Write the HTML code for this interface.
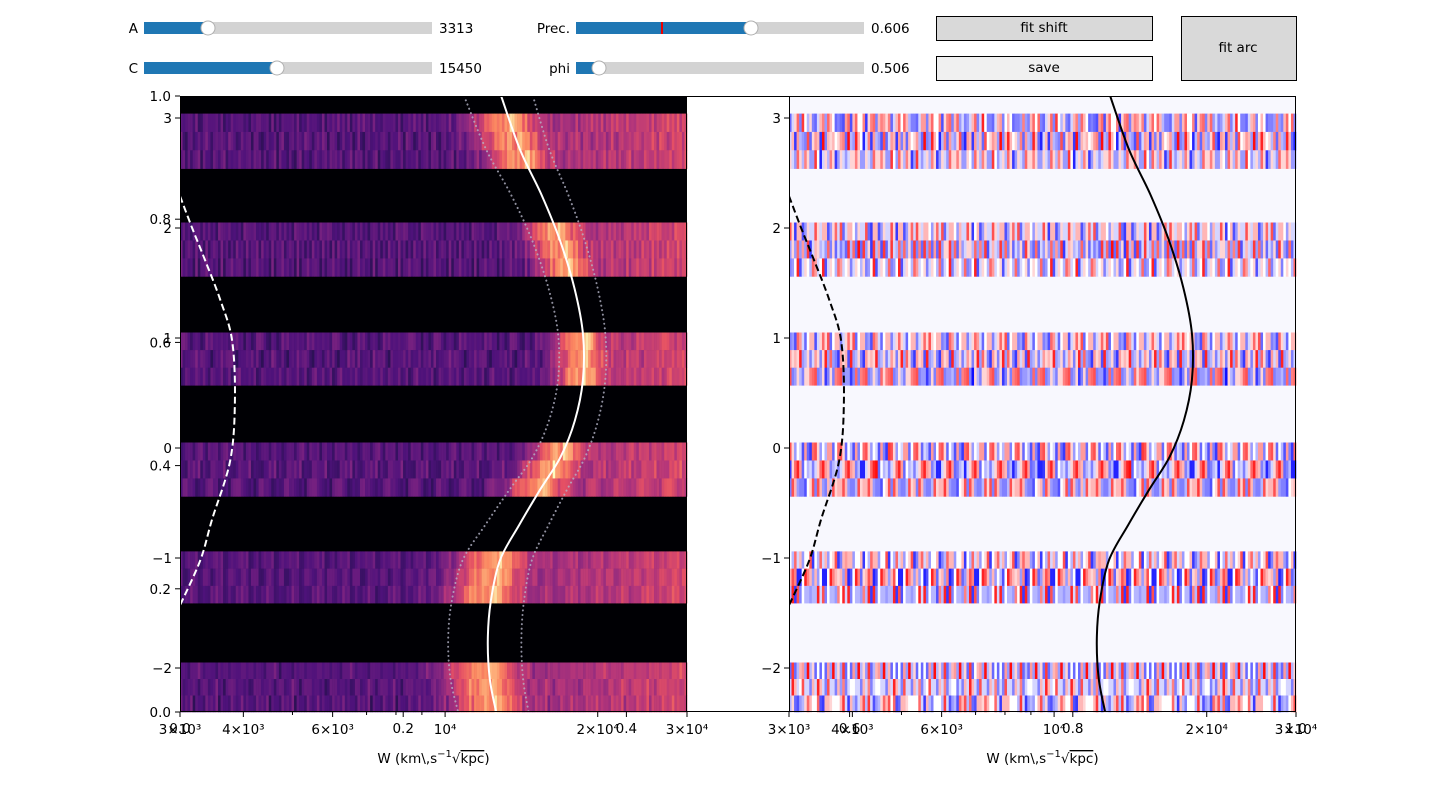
<!DOCTYPE html>
<html><head><meta charset="utf-8">
<style>
html,body{margin:0;padding:0;background:#fff;width:1440px;height:800px;overflow:hidden}
svg text{font-family:"DejaVu Sans","Liberation Sans",sans-serif;font-size:13.5px;fill:#000}
</style></head>
<body>
<svg id="fig" width="1440" height="800" xmlns="http://www.w3.org/2000/svg">
  <g>
    <text x="138" y="33" text-anchor="end">A</text>
    <rect x="144" y="22" width="288" height="12" fill="#d3d3d3"/>
    <rect x="144" y="22" width="64" height="12" fill="#1f77b4"/>
    <circle cx="208" cy="28" r="7" fill="#fff" stroke="#b0b0b0"/>
    <text x="439" y="33">3313</text>
  </g>
  <g>
    <text x="138" y="73" text-anchor="end">C</text>
    <rect x="144" y="62" width="288" height="12" fill="#d3d3d3"/>
    <rect x="144" y="62" width="133" height="12" fill="#1f77b4"/>
    <circle cx="277" cy="68" r="7" fill="#fff" stroke="#b0b0b0"/>
    <text x="439" y="73">15450</text>
  </g>
  <g>
    <text x="570" y="33" text-anchor="end">Prec.</text>
    <rect x="576" y="22" width="288" height="12" fill="#d3d3d3"/>
    <rect x="576" y="22" width="175" height="12" fill="#1f77b4"/>
    <rect x="661" y="22" width="2" height="12" fill="#e00"/>
    <circle cx="751" cy="28" r="7" fill="#fff" stroke="#b0b0b0"/>
    <text x="871" y="33">0.606</text>
  </g>
  <g>
    <text x="570" y="73" text-anchor="end">phi</text>
    <rect x="576" y="62" width="288" height="12" fill="#d3d3d3"/>
    <rect x="576" y="62" width="23" height="12" fill="#1f77b4"/>
    <circle cx="599" cy="68" r="7" fill="#fff" stroke="#b0b0b0"/>
    <text x="871" y="73">0.506</text>
  </g>
  <g>
    <rect x="936.5" y="16.5" width="216" height="24" fill="#d9d9d9" stroke="#000"/>
    <text x="1044" y="32" text-anchor="middle">fit shift</text>
  </g>
  <g>
    <rect x="936.5" y="56.5" width="216" height="24" fill="#f0f0f0" stroke="#000"/>
    <text x="1044" y="72" text-anchor="middle">save</text>
  </g>
  <g>
    <rect x="1181.5" y="16.5" width="115" height="64" fill="#d9d9d9" stroke="#000"/>
    <text x="1238" y="52" text-anchor="middle">fit arc</text>
  </g>
  <g id="plots"></g>
</svg>
<script>
// ---- data ----
const bandTop = [3.04, 2.05, 1.05, 0.05, -0.94, -1.95];
const bandBottom = [2.54, 1.56, 0.57, -0.44, -1.41, -2.40];
const curveY = [3.2, 2.71, 2.3, 1.89, 1.45, 1.03, 0.62, 0.25, -0.08, -0.38, -0.7, -1.02, -1.4, -1.75, -2.1, -2.4];
const curveW = [12900, 14060, 15500, 16840, 18000, 18710, 18700, 18030, 16900, 15390, 14000, 12830, 12300, 12140, 12250, 12610];
const curveHalfWidth = [2000];
const dashY = [2.29, 2.0, 1.71, 1.35, 0.98, 0.44, -0.11, -0.65, -1.02, -1.43];
const dashW = [3000, 3170, 3360, 3600, 3800, 3850, 3770, 3470, 3290, 3000];
const xTickVals = [3000, 4000, 5000, 6000, 7000, 8000, 9000, 10000, 20000, 30000];
const xTickLabels = ["3×10³", "4×10³", "", "6×10³", "", "", "", "10⁴", "2×10⁴", "3×10⁴"];
const yTickVals = [-2, -1, 0, 1, 2, 3];
const yTickLabels = ["−2", "−1", "0", "1", "2", "3"];
const bgTickVals = [0, 0.2, 0.4, 0.6, 0.8, 1.0];
const bgTickLabels = ["0.0", "0.2", "0.4", "0.6", "0.8", "1.0"];
const noiseRows = [
"3527148063925174086241937502846193758206417395028461739205846172930584617293058461729305846172938475",
"6140293857162049385716203948571620394857162093847561029384756102938475610293847561029384756102938471",
"2857390416285739041628573904162857390416285739041628573904162857391046285739104628573910462857391041",
"9371528046937152804693715280469371528046937152804693715280469371582046937158204693715820469371582044",
"4062817395406281739540628173954062817395406281739540628173954062817935406281793540628179354062817936",
"1758390264175839026417583902641758390264175839026417583902641758392064175839206417583920641758392065",
"5294071863529407186352940718635294071863529407186352940718635294078163529407816352940781635294078169",
"8416302957841630295784163029578416302957841630295784163029578416309257841630925784163092578416309253",
"3069582714306958271430695827143069582714306958271430695827143069587214306958721430695872143069587212",
"7183649025718364902571836490257183649025718364902571836490257183642905718364290571836429057183642907",
"2940375186294037518629403751862940375186294037518629403751862940371586294037158629403715862940371580",
"6528013947652801394765280139476528013947652801394765280139476528019347652801934765280193476528019348",
"0375924816037592481603759248160375924816037592481603759248160375928416037592841603759284160375928414",
"4816257390481625739048162573904816257390481625739048162573904816253790481625379048162537904816253796",
"9152748603915274860391527486039152748603915274860391527486039152746803915274680391527468039152746801",
"3607491825360749182536074918253607491825360749182536074918253607498125360749812536074981253607498125",
"8271936045827193604582719360458271936045827193604582719360458271930645827193064582719306458271930642",
"5943061278594306127859430612785943061278594306127859430612785943062178594306217859430621785943062177"
];

const ns = "http://www.w3.org/2000/svg";
const root = document.getElementById('plots');
const Y0 = 96, Y1 = 712;
const yMax = 3.2, yMin = -2.4;
const Wmin = 3000, Wmax = 30000;
const panels = [{x0: 180, x1: 687, mode: 'magma'}, {x0: 789, x1: 1296, mode: 'bwr'}];
function yPix(v) { return Y0 + (yMax - v) / (yMax - yMin) * (Y1 - Y0); }
function xPix(p, W) { return p.x0 + Math.log10(W / Wmin) / Math.log10(Wmax / Wmin) * (p.x1 - p.x0); }
function mk(tag, attrs, parent) { const e = document.createElementNS(ns, tag); for (const k in attrs) e.setAttribute(k, attrs[k]); (parent || root).appendChild(e); return e; }

const magmaStops = [[0,[0,0,4]],[0.13,[28,16,68]],[0.25,[79,18,123]],[0.38,[129,37,129]],[0.5,[181,54,122]],[0.63,[229,80,100]],[0.75,[251,135,97]],[0.88,[254,194,135]],[1,[252,253,191]]];
function magma(t) { t = Math.max(0, Math.min(1, t)); for (let i = 1; i < magmaStops.length; i++) { if (t <= magmaStops[i][0]) { const a = magmaStops[i-1], b = magmaStops[i]; const f = (t - a[0]) / (b[0] - a[0]); const c = a[1].map((v, j) => Math.round(v + (b[1][j] - v) * f)); return `rgb(${c})`; } } return 'rgb(252,253,191)'; }
function bwr(v) { v = Math.max(-1, Math.min(1, v)); if (v < 0) { const g = Math.round(255 * (1 + v)); return `rgb(${g},${g},255)`; } const g = Math.round(255 * (1 - v)); return `rgb(255,${g},${g})`; }
function curveAt(y) { for (let i = 1; i < curveY.length; i++) { if (y >= curveY[i]) { const f = (y - curveY[i]) / (curveY[i-1] - curveY[i]); return curveW[i] + f * (curveW[i-1] - curveW[i]); } } return curveW[curveW.length - 1]; }

function smoothPath(pts) {
  let d = `M${pts[0][0]},${pts[0][1]}`;
  for (let i = 0; i < pts.length - 1; i++) {
    const p0 = pts[Math.max(0, i-1)], p1 = pts[i], p2 = pts[i+1], p3 = pts[Math.min(pts.length-1, i+2)];
    const c1 = [p1[0] + (p2[0]-p0[0])/6, p1[1] + (p2[1]-p0[1])/6];
    const c2 = [p2[0] - (p3[0]-p1[0])/6, p2[1] - (p3[1]-p1[1])/6];
    d += ` C${c1[0]},${c1[1]} ${c2[0]},${c2[1]} ${p2[0]},${p2[1]}`;
  }
  return d;
}

const nCols = 200;
const rowLen = noiseRows[0].length;
panels.forEach((p, pi) => {
  const g = mk('g', {});
  
  
  const clipId = 'clip' + pi;
  const cp = mk('clipPath', {id: clipId}, g);
  mk('rect', {x: p.x0, y: Y0, width: p.x1 - p.x0, height: Y1 - Y0}, cp);
  mk('rect', {x: p.x0, y: Y0, width: p.x1 - p.x0, height: Y1 - Y0, fill: p.mode === 'magma' ? '#000004' : '#f8f8fe'}, g);
  const logMin = Math.log10(Wmin), logMax = Math.log10(Wmax);
  bandTop.forEach((bt, bi) => {
    const bb = bandBottom[bi];
    for (let s = 0; s < 3; s++) {
      const yt = bt - (bt - bb) * s / 3, yb = bt - (bt - bb) * (s + 1) / 3;
      const ri = bi * 3 + s;
      const row = noiseRows[ri];
      const other = noiseRows[(ri * 7 + 5 + pi * 3) % 18];
      const yc = (yt + yb) / 2;
      const cW = curveAt(yc);
      for (let c = 0; c < nCols; c++) {
        const Wa = Math.pow(10, logMin + (logMax - logMin) * c / nCols);
        const Wb = Math.pow(10, logMin + (logMax - logMin) * (c + 1) / nCols);
        const d1 = +row[(c * 13 + ri * 7 + pi * 29) % rowLen];
        const d2 = +other[(c * 37 + 11 + ri * 3) % rowLen];
        let fill;
        if (p.mode === 'magma') {
          const Wm = (Wa + Wb) / 2;
          const frac = c / nCols;
          const dn = (d1 + d2) / 18;
          const dz = (Wm - (cW - 500)) / 1700;
          let v = 0.17 + 0.2 * dn + 0.5 * Math.exp(-dz * dz);
          if (Wm > cW) v += 0.1 + 0.22 * Math.pow(frac, 3);
          fill = magma(v);
        } else {
          const v = ((d1 + d2) / 2 - 4.5) / 4.5;
          fill = bwr(Math.sign(v) * Math.pow(Math.abs(v), 0.8) * 0.95);
        }
        const r = mk('rect', {x: xPix(p, Wa).toFixed(2), y: yPix(yt).toFixed(2), width: (xPix(p, Wb) - xPix(p, Wa) + 0.3).toFixed(2), height: (yPix(yb) - yPix(yt) + 0.3).toFixed(2), fill: fill}, g);
        
        
      }
    }
  });
  const lc = p.mode === 'magma' ? '#fff' : '#000';
  const cg = mk('g', {'clip-path': `url(#${clipId})`}, g);
  if (p.mode === 'magma') {
    [-1, 1].forEach(sgn => {
      const pts = curveY.map((y, i) => [xPix(p, curveW[i] + sgn * curveHalfWidth[0]), yPix(y)]);
      const e = mk('path', {d: smoothPath(pts), fill: 'none', stroke: '#b4b4c8', 'stroke-width': 2, 'stroke-dasharray': '0.1 4.5', 'stroke-linecap': 'round', opacity: 0.8}, cg);
      
      
    });
  }
  const sol = mk('path', {d: smoothPath(curveY.map((y, i) => [xPix(p, curveW[i]), yPix(y)])), fill: 'none', stroke: lc, 'stroke-width': 2}, cg);
  
  
  const das = mk('path', {d: smoothPath(dashY.map((y, i) => [xPix(p, dashW[i]), yPix(y)])), fill: 'none', stroke: lc, 'stroke-width': 2, 'stroke-dasharray': '7 3.5'}, cg);
  
  
  mk('rect', {x: p.x0 + 0.5, y: Y0 + 0.5, width: p.x1 - p.x0 - 1, height: Y1 - Y0 - 1, fill: 'none', stroke: '#000', 'stroke-width': 1}, g);
  xTickVals.forEach((v, i) => {
    const x = xPix(p, v);
    const major = xTickLabels[i] !== '';
    mk('line', {x1: x, x2: x, y1: Y1, y2: Y1 + (major ? 5 : 3), stroke: '#000'}, g);
    if (xTickLabels[i]) {
      const t = mk('text', {x: x, y: Y1 + 22, 'text-anchor': 'middle'}, g);
      t.textContent = xTickLabels[i];
      
      
    }
  });
  yTickVals.forEach((v, i) => {
    const y = yPix(v);
    mk('line', {x1: p.x0 - 5, x2: p.x0, y1: y, y2: y, stroke: '#000'}, g);
    const t = mk('text', {x: p.x0 - 8, y: y + 5, 'text-anchor': 'end'}, g);
    t.textContent = yTickLabels[i];
    
    
  });
  const xl = mk('text', {x: (p.x0 + p.x1) / 2, y: 763, 'text-anchor': 'middle'}, g);
  xl.innerHTML = 'W (km\\,s<tspan dy="-6" font-size="10">−1</tspan><tspan dy="6">√</tspan><tspan text-decoration="overline">kpc</tspan>)';
  
  
});

const bg = mk('g', {});


mk('line', {x1: 180, x2: 1296, y1: 96.5, y2: 96.5, stroke: '#000'}, bg);
mk('line', {x1: 180, x2: 1296, y1: 711.5, y2: 711.5, stroke: '#000'}, bg);
mk('line', {x1: 1295.5, x2: 1295.5, y1: 96, y2: 712, stroke: '#000'}, bg);
mk('line', {x1: 180.5, x2: 180.5, y1: 96, y2: 712, stroke: '#000'}, bg);
bgTickVals.forEach((v, i) => {
  const x = 180 + v * 1116, y = 712 - v * 616;
  mk('line', {x1: x, x2: x, y1: 712, y2: 717, stroke: '#000'}, bg);
  const tx = mk('text', {x: x, y: 733, 'text-anchor': 'middle'}, bg);
  tx.textContent = bgTickLabels[i];
  
  
  mk('line', {x1: 175, x2: 180, y1: y, y2: y, stroke: '#000'}, bg);
  const ty = mk('text', {x: 171, y: y + 5, 'text-anchor': 'end'}, bg);
  ty.textContent = bgTickLabels[i];
  
  
});
</script>
</body></html>
